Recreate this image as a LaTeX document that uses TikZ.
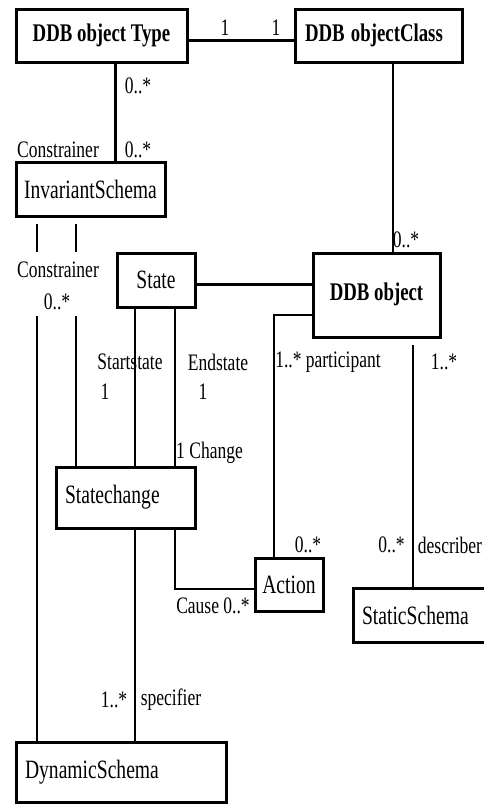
\documentclass[tikz,border=0pt]{standalone}
\usepackage{fontspec}
\setmainfont{Liberation Serif}
\usepackage{graphicx}
\newcommand\st[1]{\scalebox{1}[1.35]{#1}}
\newcommand\bxfont{\fontsize{19.6}{22}\selectfont}
\newcommand\kbfont{\fontsize{18.8}{22}\selectfont\bfseries}
\newcommand\lbfont{\fontsize{17.5}{20}\selectfont}
\begin{document}
\begin{tikzpicture}[x=1pt,y=-1pt,
  box/.style={draw, line width=3pt, inner sep=0pt, font=\bxfont},
  kbox/.style={box, font=\kbfont},
  lbox/.style={box, align=left, inner xsep=9pt},
  conn/.style={line width=1.9pt},
  heavy/.style={line width=3pt},
  lbl/.style={inner sep=0pt, font=\lbfont}]
\useasboundingbox (0,0) rectangle (483,804);

% boxes
\node[kbox, minimum width=171, minimum height=53] (type) at (101.5,35.5) {\st{DDB object Type}};
\node[kbox, minimum width=167, minimum height=53, text width=147, align=left, inner xsep=10pt] (class) at (378.5,35.5) {\st{DDB objectClass}};
\node[box, minimum width=149, minimum height=54] (inv) at (90.5,189) {\st{InvariantSchema}};
\node[box, minimum width=78, minimum height=54] (state) at (156,280) {\st{State}};
\node[kbox, minimum width=127, minimum height=84] (obj) at (376.5,295) {\raisebox{7pt}{\st{DDB object}}};
\node[lbox, minimum width=139, minimum height=61, text width=121] (sc) at (125.5,497.5) {\st{Statechange}};
\node[box, minimum width=68, minimum height=53] (action) at (289,584.5) {\st{Action}};
\node[lbox, minimum width=170, minimum height=54, text width=152] (static) at (438,615) {\st{StaticSchema}};
\node[lbox, minimum width=210, minimum height=60, text width=192] (dyn) at (121,772) {\st{DynamicSchema}};

% gap coordinates
\coordinate (ga1) at (37,252);
\coordinate (gb1) at (37,316);
\coordinate (ga2) at (76,252);
\coordinate (gb2) at (76,316);

% connectors
\draw[heavy] ([yshift=-4.5pt]type.east) -- ([yshift=-4.5pt]class.west);
\draw[heavy] ([xshift=13.5pt]type.south) -- ([xshift=24.5pt]inv.north);
\draw[conn] ([xshift=14.5pt]class.south) -- ([xshift=16.5pt]obj.north);
\draw[conn] ([xshift=-53.5pt,yshift=-6pt]inv.south) -- (ga1) (gb1) -- ([xshift=-84pt]dyn.north);
\draw[conn] ([xshift=-14.5pt,yshift=-6pt]inv.south) -- (ga2) (gb2) -- ([xshift=-49.5pt]sc.north);
\draw[conn] ([xshift=-21pt]state.south) -- ([xshift=9.5pt]sc.north);
\draw[conn] ([xshift=19pt]state.south) -- ([xshift=49.5pt]sc.north);
\draw[heavy] ([yshift=-4pt]state.east) -- ([yshift=11pt]obj.west);
\draw[conn] ([yshift=-20pt]obj.west) -| ([xshift=-15pt]action.north);
\draw[conn] ([xshift=49.5pt]sc.south) |- ([yshift=-4.5pt]action.west);
\draw[conn] ([xshift=9.5pt]sc.south) -- ([xshift=14pt]dyn.north);
\draw[conn] ([xshift=36.5pt,yshift=-6pt]obj.south) -- ([xshift=-25pt]static.north);

% labels
\node[lbl] (l1) at (225,28) {\st{1}};
\node[lbl] (l2) at (276,28) {\st{1}};
\node[lbl] (l3) at (138,86) {\st{0..*}};
\node[lbl] (l4) at (138,150) {\st{0..*}};
\node[lbl] (l5) at (58,150) {\st{Constrainer}};
\node[lbl] (l6) at (58,270) {\st{Constrainer}};
\node[lbl] (l7) at (57,302) {\st{0..*}};
\node[lbl] (l8) at (406,240) {\st{0..*}};
\node[lbl] (l9) at (130,362) {\st{Startstate}};
\node[lbl] (l10) at (105,392) {\st{1}};
\node[lbl] (l11) at (218,362) {\st{Endstate}};
\node[lbl] (l12) at (203,392) {\st{1}};
\node[lbl] (l13) at (328,362) {\st{1..* participant}};
\node[lbl] (l14) at (444,362) {\st{1..*}};
\node[lbl] (l15) at (209.5,453) {\st{1 Change}};
\node[lbl] (l16) at (308,545) {\st{0..*}};
\node[lbl] (l17) at (391.5,545) {\st{0..*}};
\node[lbl] (l18) at (450,545) {\st{describer}};
\node[lbl] (l19) at (213,606) {\st{Cause 0..*}};
\node[lbl] (l20) at (114,700) {\st{1..*}};
\node[lbl] (l21) at (171,700) {\st{specifier}};
\end{tikzpicture}
\end{document}
